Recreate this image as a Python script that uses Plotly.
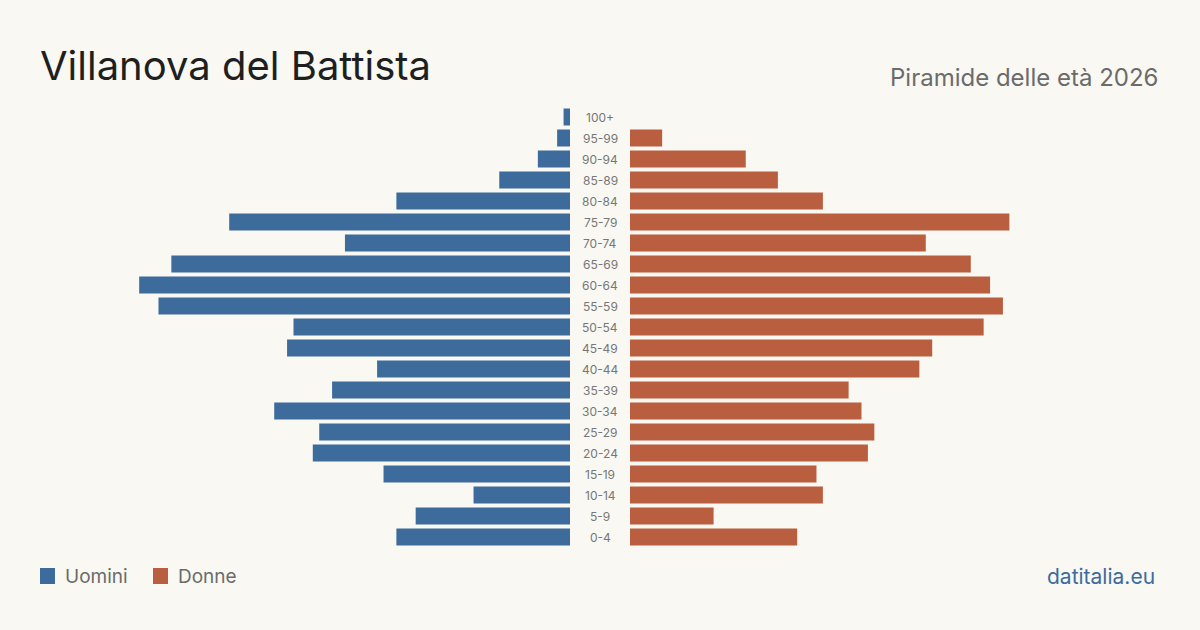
import plotly.graph_objects as go

age_groups = ["0-4", "5-9", "10-14", "15-19", "20-24", "25-29", "30-34", "35-39", "40-44",
              "45-49", "50-54", "55-59", "60-64", "65-69", "70-74", "75-79", "80-84",
              "85-89", "90-94", "95-99", "100+"]
men = [27, 24, 15, 29, 40, 39, 46, 37, 30, 44, 43, 64, 67, 62, 35, 53, 27, 11, 5, 2, 1]
women = [26, 13, 30, 29, 37, 38, 36, 34, 45, 47, 55, 58, 56, 53, 46, 59, 30, 23, 18, 5, 0]

title = "Villanova del Battista"
subtitle = "Piramide delle età 2026"
source = "datitalia.eu"
men_label = "Uomini"
women_label = "Donne"

BLUE = "#3d6b9c"
ORANGE = "#b95e3e"
BG = "#f9f8f3"
FONT = "Inter"

W, H = 1200, 630
xmax = 530 / 6.43

def px(x):
    return x / W

def py(y):
    return 1 - y / H

fig = go.Figure()
fig.add_trace(go.Bar(y=age_groups, x=men, orientation="h", marker_color=BLUE,
                     marker_line_width=0,
                     xaxis="x", yaxis="y", name=men_label, showlegend=False,
                     hoverinfo="x+y"))
fig.add_trace(go.Bar(y=age_groups, x=women, orientation="h", marker_color=ORANGE,
                     marker_line_width=0,
                     xaxis="x2", yaxis="y2", name=women_label, showlegend=False,
                     hoverinfo="x+y"))

ydom = [py(547.5), py(106.5)]
fig.update_layout(
    width=W, height=H,
    margin=dict(l=0, r=0, t=0, b=0),
    paper_bgcolor=BG, plot_bgcolor=BG,
    font=dict(family=FONT),
    bargap=4 / 21,
    xaxis=dict(domain=[px(40), px(570)], range=[xmax, 0], visible=False, fixedrange=True),
    xaxis2=dict(domain=[px(630), px(1160)], range=[0, xmax], visible=False, fixedrange=True),
    yaxis=dict(domain=ydom, anchor="x", visible=False, categoryorder="array",
               categoryarray=age_groups),
    yaxis2=dict(domain=ydom, anchor="x2", visible=False, categoryorder="array",
                categoryarray=age_groups, matches="y"),
)

annotations = []
for g in age_groups:
    annotations.append(dict(x=px(600), xref="paper", y=g, yref="y", text=g,
                            showarrow=False, xanchor="center", yanchor="middle",
                            font=dict(size=12, color="#777", family=FONT)))

annotations.append(dict(x=px(38), y=py(66), xref="paper", yref="paper", text=title,
                        showarrow=False, xanchor="left", yanchor="middle",
                        font=dict(size=40, color="#1f1f1f", family=FONT)))
annotations.append(dict(x=px(1160), y=py(77), xref="paper", yref="paper", text=subtitle,
                        showarrow=False, xanchor="right", yanchor="middle",
                        font=dict(size=24, color="#6b6b6b", family=FONT)))
annotations.append(dict(x=px(1157), y=py(576), xref="paper", yref="paper", text=source,
                        showarrow=False, xanchor="right", yanchor="middle",
                        font=dict(size=21, color=BLUE, family=FONT)))
annotations.append(dict(x=px(63), y=py(576), xref="paper", yref="paper", text=men_label,
                        showarrow=False, xanchor="left", yanchor="middle",
                        font=dict(size=19, color="#6b6b6b", family=FONT)))
annotations.append(dict(x=px(176), y=py(576), xref="paper", yref="paper", text=women_label,
                        showarrow=False, xanchor="left", yanchor="middle",
                        font=dict(size=19, color="#6b6b6b", family=FONT)))

shapes = [
    dict(type="rect", xref="paper", yref="paper", x0=px(40), x1=px(55), y0=py(584), y1=py(568),
         fillcolor=BLUE, line=dict(width=0)),
    dict(type="rect", xref="paper", yref="paper", x0=px(153), x1=px(168), y0=py(584), y1=py(568),
         fillcolor=ORANGE, line=dict(width=0)),
]

fig.update_layout(annotations=annotations, shapes=shapes)
fig.write_html("out.html")
